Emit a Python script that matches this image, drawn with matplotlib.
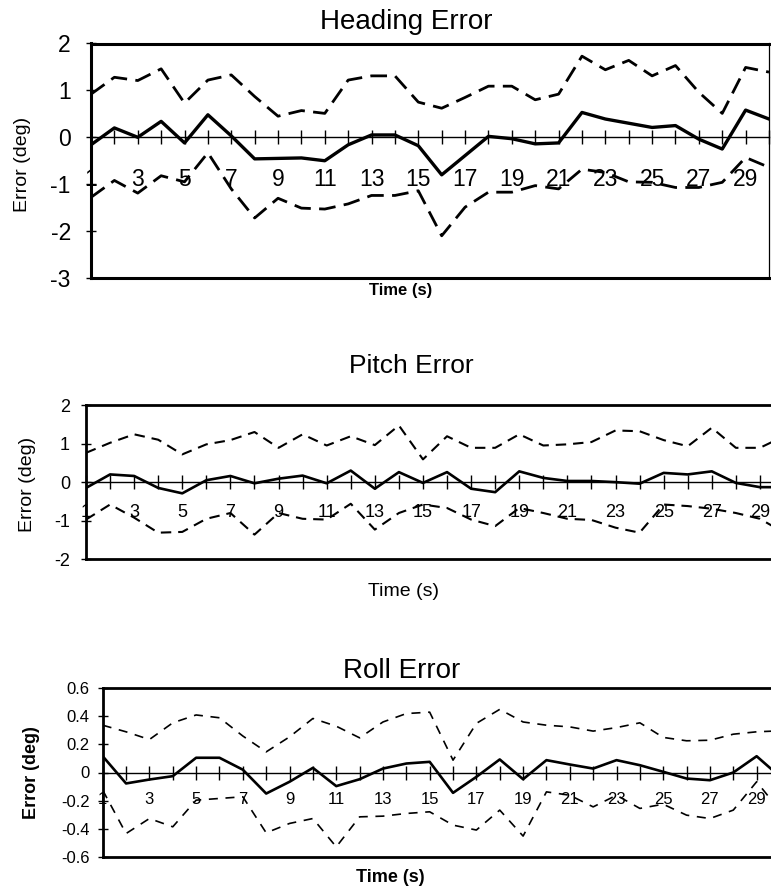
import matplotlib
matplotlib.use("Agg")
import matplotlib.pyplot as plt

plt.rcParams["font.family"] = ["Liberation Sans", "DejaVu Sans"]
plt.rcParams["lines.scale_dashes"] = False

W, H = 771, 893

t = list(range(1, 31))

heading_mean = [-0.16, 0.2, 0.0, 0.34, -0.12, 0.48, 0.03, -0.46, -0.45, -0.44,
                -0.5, -0.16, 0.05, 0.05, -0.18, -0.8, -0.39, 0.02, -0.03, -0.14,
                -0.12, 0.53, 0.39, 0.3, 0.21, 0.25, -0.04, -0.25, 0.58, 0.39]
heading_upper = [0.92, 1.28, 1.21, 1.46, 0.73, 1.22, 1.33, 0.87, 0.45, 0.57,
                 0.51, 1.22, 1.31, 1.31, 0.75, 0.62, 0.85, 1.09, 1.09, 0.8,
                 0.92, 1.73, 1.44, 1.64, 1.31, 1.53, 0.96, 0.51, 1.49, 1.39]
heading_lower = [-1.28, -0.92, -1.19, -0.82, -0.95, -0.33, -1.1, -1.72, -1.3, -1.51,
                 -1.53, -1.42, -1.24, -1.24, -1.14, -2.1, -1.49, -1.17, -1.17, -1.03,
                 -1.1, -0.68, -0.75, -0.95, -0.96, -1.07, -1.07, -0.96, -0.43, -0.64]

pitch_mean = [-0.15, 0.2, 0.16, -0.15, -0.29, 0.05, 0.16, -0.03, 0.09, 0.17,
              -0.03, 0.3, -0.17, 0.26, -0.02, 0.26, -0.17, -0.26, 0.28, 0.11,
              0.03, 0.03, 0.0, -0.04, 0.24, 0.2, 0.28, -0.02, -0.13, -0.13]
pitch_upper = [0.76, 1.02, 1.24, 1.1, 0.72, 0.98, 1.09, 1.3, 0.89, 1.24,
               0.95, 1.19, 0.96, 1.47, 0.59, 1.19, 0.89, 0.89, 1.24, 0.95,
               0.98, 1.04, 1.34, 1.32, 1.09, 0.93, 1.41, 0.89, 0.89, 1.19]
pitch_lower = [-0.97, -0.58, -0.92, -1.31, -1.29, -0.95, -0.8, -1.36, -0.8, -0.95,
               -0.97, -0.56, -1.23, -0.8, -0.58, -0.67, -0.97, -1.14, -0.67, -0.8,
               -0.95, -0.98, -1.18, -1.31, -0.58, -0.62, -0.69, -0.8, -0.95, -1.31]

roll_mean = [0.116, -0.078, -0.05, -0.026, 0.105, 0.105, 0.02, -0.15, -0.066, 0.033,
             -0.097, -0.048, 0.028, 0.064, 0.076, -0.145, -0.031, 0.093, -0.048, 0.088,
             0.057, 0.028, 0.088, 0.052, 0.005, -0.043, -0.055, 0.0, 0.116, -0.03]
roll_upper = [0.337, 0.29, 0.235, 0.354, 0.41, 0.39, 0.26, 0.147, 0.254, 0.385,
              0.33, 0.247, 0.36, 0.42, 0.43, 0.088, 0.35, 0.45, 0.36, 0.337,
              0.325, 0.295, 0.32, 0.354, 0.25, 0.226, 0.23, 0.273, 0.29, 0.297]
roll_lower = [-0.126, -0.435, -0.328, -0.387, -0.197, -0.185, -0.173, -0.43, -0.363, -0.328,
              -0.53, -0.316, -0.311, -0.292, -0.28, -0.375, -0.41, -0.268, -0.453, -0.138,
              -0.162, -0.245, -0.162, -0.256, -0.226, -0.304, -0.328, -0.268, -0.066, -0.273]

heading_yticks = [2, 1, 0, -1, -2, -3]
pitch_yticks = [2, 1, 0, -1, -2]
roll_yticks = [0.6, 0.4, 0.2, 0, -0.2, -0.4, -0.6]


def px_axes(fig, left, top, right, bottom):
    return fig.add_axes([left / W, 1 - bottom / H, (right - left) / W, (bottom - top) / H])


def px_text(fig, x, y, s, **kw):
    fig.text(x / W, 1 - y / H, s, ha="center", va="center", **kw)


def error_panel(ax, mean, upper, lower, yticks, ytickfmt, style):
    ax.plot(t, upper, color="black", lw=style["dash_lw"], dashes=style["dashes"])
    ax.plot(t, lower, color="black", lw=style["dash_lw"], dashes=style["dashes"])
    ax.plot(t, mean, color="black", lw=style["solid_lw"])

    ax.set_xlim(1, 30)
    ax.set_ylim(min(yticks), max(yticks))

    # category axis sits on the zero line, frame line drawn separately
    ax.spines["bottom"].set_position(("data", 0))
    ax.spines["bottom"].set_linewidth(1.0)
    ax.spines["top"].set_linewidth(style["frame_lw"])
    ax.spines["left"].set_linewidth(style["frame_lw"])
    ax.spines["right"].set_linewidth(0.9)
    ax.plot([0, 1], [0, 0], transform=ax.transAxes, color="black",
            lw=style["frame_lw"], clip_on=False)

    ax.set_xticks(t)
    ax.set_xticklabels([str(v) if v % 2 == 1 else "" for v in t],
                       fontsize=style["xtick_fs"])
    ax.tick_params(axis="x", direction="inout", length=style["xtick_len"],
                   width=1.0, pad=style["xtick_pad"])
    ax.set_yticks(yticks)
    ax.set_yticklabels([ytickfmt(v) for v in yticks], fontsize=style["ytick_fs"])
    ax.tick_params(axis="y", direction="inout", length=7, width=1.0,
                   pad=style["ytick_pad"])


fig = plt.figure(figsize=(W / 100, H / 100), dpi=100)

ax1 = px_axes(fig, 91, 43.5, 769, 278)
error_panel(ax1, heading_mean, heading_upper, heading_lower, heading_yticks,
            lambda v: f"{v:d}",
            dict(dash_lw=2.0, dashes=(12, 6), solid_lw=2.4, frame_lw=2.2,
                 xtick_fs=16.5, xtick_len=10, xtick_pad=17, ytick_fs=16.5,
                 ytick_pad=11))
px_text(fig, 406, 22, "Heading Error", fontsize=20)
px_text(fig, 401, 290, "Time (s)", fontsize=12, fontweight="bold")
px_text(fig, 23, 164, "Error (deg)", fontsize=14, rotation=90)

ax2 = px_axes(fig, 86, 405, 784, 559.3)
error_panel(ax2, pitch_mean, pitch_upper, pitch_lower, pitch_yticks,
            lambda v: f"{v:d}",
            dict(dash_lw=1.5, dashes=(7.5, 5), solid_lw=1.9, frame_lw=2.0,
                 xtick_fs=13, xtick_len=10, xtick_pad=11, ytick_fs=13,
                 ytick_pad=8))
px_text(fig, 411, 366, "Pitch Error", fontsize=19)
px_text(fig, 404, 592, "Time (s)", fontsize=14)
px_text(fig, 28, 484, "Error (deg)", fontsize=14, rotation=90)

ax3 = px_axes(fig, 102.7, 688.3, 780, 856.7)
error_panel(ax3, roll_mean, roll_upper, roll_lower, roll_yticks,
            lambda v: "0" if v == 0 else f"{v:.1f}",
            dict(dash_lw=1.2, dashes=(6.5, 5.5), solid_lw=1.9, frame_lw=2.0,
                 xtick_fs=12, xtick_len=10, xtick_pad=9, ytick_fs=12,
                 ytick_pad=6))
px_text(fig, 402, 671, "Roll Error", fontsize=20)
px_text(fig, 390, 877, "Time (s)", fontsize=13, fontweight="bold")
px_text(fig, 32, 773, "Error (deg)", fontsize=13, fontweight="bold", rotation=90)

fig.savefig("out.png", dpi=100)
